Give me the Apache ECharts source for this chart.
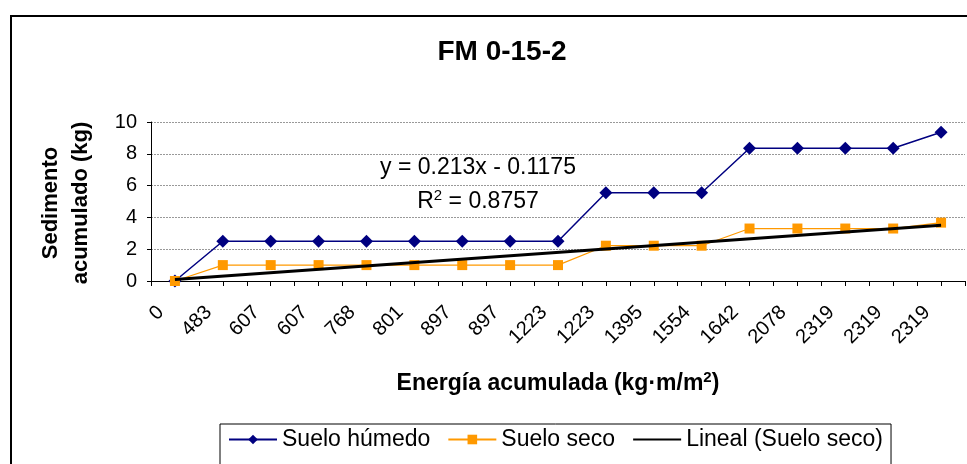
<!DOCTYPE html>
<html><head><meta charset="utf-8">
<script src="https://cdn.jsdelivr.net/npm/echarts@6/dist/echarts.min.js"></script>
<style>html,body{margin:0;padding:0;background:#fff}#c{width:967px;height:464px}</style>
</head><body><div id="c"></div>
<script>
// ---- data ----
const categories = ['0','483','607','607','768','801','897','897','1223','1223','1395','1554','1642','2078','2319','2319','2319'];
const sueloHumedo = [0, 2.5, 2.5, 2.5, 2.5, 2.5, 2.5, 2.5, 2.5, 5.55, 5.55, 5.55, 8.35, 8.35, 8.35, 8.35, 9.35];
const sueloSeco   = [0, 1.0, 1.0, 1.0, 1.0, 1.0, 1.0, 1.0, 1.0, 2.22, 2.22, 2.22, 3.3, 3.3, 3.3, 3.3, 3.67];
const linealSecoEnds = [0.1, 3.5];   // trend line start (first category) and end (last category)
const yMin = 0, yMax = 10, yStep = 2;
const seriesNames = ['Suelo húmedo', 'Suelo seco', 'Lineal (Suelo seco)'];
const equationText = 'y = 0.213x - 0.1175';
const r2Value = '0.8757';

const linealSeco = categories.map((c, i) => i === 0 ? linealSecoEnds[0] : (i === categories.length - 1 ? linealSecoEnds[1] : null));

const FF = '"Liberation Sans", Arial, sans-serif';
const chart = echarts.init(document.getElementById('c'), null, {renderer: 'canvas'});
chart.setOption({
  animation: false,
  backgroundColor: '#fff',
  title: {
    text: 'FM 0-15-2', left: 497, top: 33, textAlign: 'center',
    textStyle: {fontFamily: FF, fontSize: 28, fontWeight: 'bold', color: '#000'}
  },
  grid: {left: 151, right: 2, top: 122, bottom: 183, containLabel: false},
  legend: {
    left: 220, top: 424, width: 720,
    padding: [4, 8, 40, 8], itemGap: 17, itemWidth: 48, itemHeight: 12,
    borderColor: '#000', borderWidth: 1,
    textStyle: {fontFamily: FF, fontSize: 23, color: '#000'},
    data: [seriesNames[0], seriesNames[1], {name: seriesNames[2], itemStyle: {opacity: 0}}]
  },
  xAxis: [{
    type: 'category', data: categories, position: 'bottom', boundaryGap: true,
    axisLine: {lineStyle: {color: '#000', width: 1}},
    axisTick: {show: true, alignWithLabel: false, interval: 0, length: 5, lineStyle: {color: '#000'}},
    axisLabel: {interval: 0, rotate: 45, margin: 14, padding: [0, 20, 0, 0], fontFamily: FF, fontSize: 20, color: '#000'},
    splitLine: {show: false},
    name: '{t|Energía acumulada (kg·m/m}{s|2}{t|)}', nameLocation: 'middle', nameGap: 89,
    nameTextStyle: {rich: {
      t: {fontFamily: FF, fontSize: 23, fontWeight: 'bold', color: '#000', verticalAlign: 'bottom'},
      s: {fontFamily: FF, fontSize: 15, fontWeight: 'bold', color: '#000', verticalAlign: 'top', padding: [0, 0, 10, 0]}
    }}
  }, {
    type: 'category', data: categories, position: 'bottom', boundaryGap: true,
    axisLine: {show: false},
    axisTick: {show: true, alignWithLabel: true, interval: 0, length: 5, lineStyle: {color: '#000'}},
    axisLabel: {show: false},
    splitLine: {show: false}
  }],
  yAxis: {
    type: 'value', min: yMin, max: yMax, interval: yStep,
    axisLine: {show: true, lineStyle: {color: '#000', width: 1}},
    axisTick: {show: true, length: 4, lineStyle: {color: '#000'}},
    axisLabel: {margin: 14, fontFamily: FF, fontSize: 20, color: '#000'},
    splitLine: {show: true, lineStyle: {color: '#999', width: 1, type: [2, 1]}}
  },
  series: [{
    name: seriesNames[0], type: 'line', data: sueloHumedo, z: 3,
    symbol: 'diamond', symbolSize: 13,
    lineStyle: {color: '#000080', width: 1.5}, itemStyle: {color: '#000080'}
  }, {
    name: seriesNames[1], type: 'line', data: sueloSeco, z: 4,
    symbol: 'rect', symbolSize: 10,
    lineStyle: {color: '#FF9900', width: 1.2}, itemStyle: {color: '#FF9900'}
  }, {
    name: seriesNames[2], type: 'line', data: linealSeco, connectNulls: true, z: 5,
    symbol: 'none', showSymbol: false,
    lineStyle: {color: '#000', width: 3}, itemStyle: {color: '#000'}
  }],
  graphic: [{
    type: 'rect', silent: true, z: 0,
    shape: {x: 11, y: 16, width: 1000, height: 600},
    style: {fill: 'none', stroke: '#000', lineWidth: 2}
  }, {
    type: 'text', x: 478, y: 168, silent: true,
    style: {text: equationText, font: '23px ' + FF, fill: '#000', textAlign: 'center', textVerticalAlign: 'middle'}
  }, {
    type: 'text', x: 478, y: 201, silent: true,
    style: {
      text: '{t|R}{s|2}{t| = ' + r2Value + '}', textAlign: 'center', textVerticalAlign: 'middle',
      rich: {
        t: {fontFamily: FF, fontSize: 23, fill: '#000', verticalAlign: 'bottom'},
        s: {fontFamily: FF, fontSize: 15, fill: '#000', verticalAlign: 'top', padding: [0, 0, 10, 0]}
      }
    }
  }, {
    type: 'text', x: 66, y: 203, rotation: Math.PI / 2, silent: true,
    style: {text: 'Sedimento\nacumulado (kg)', font: 'bold 22px ' + FF, fill: '#000',
      textAlign: 'center', textVerticalAlign: 'middle', lineHeight: 30}
  }]
});
</script></body></html>
